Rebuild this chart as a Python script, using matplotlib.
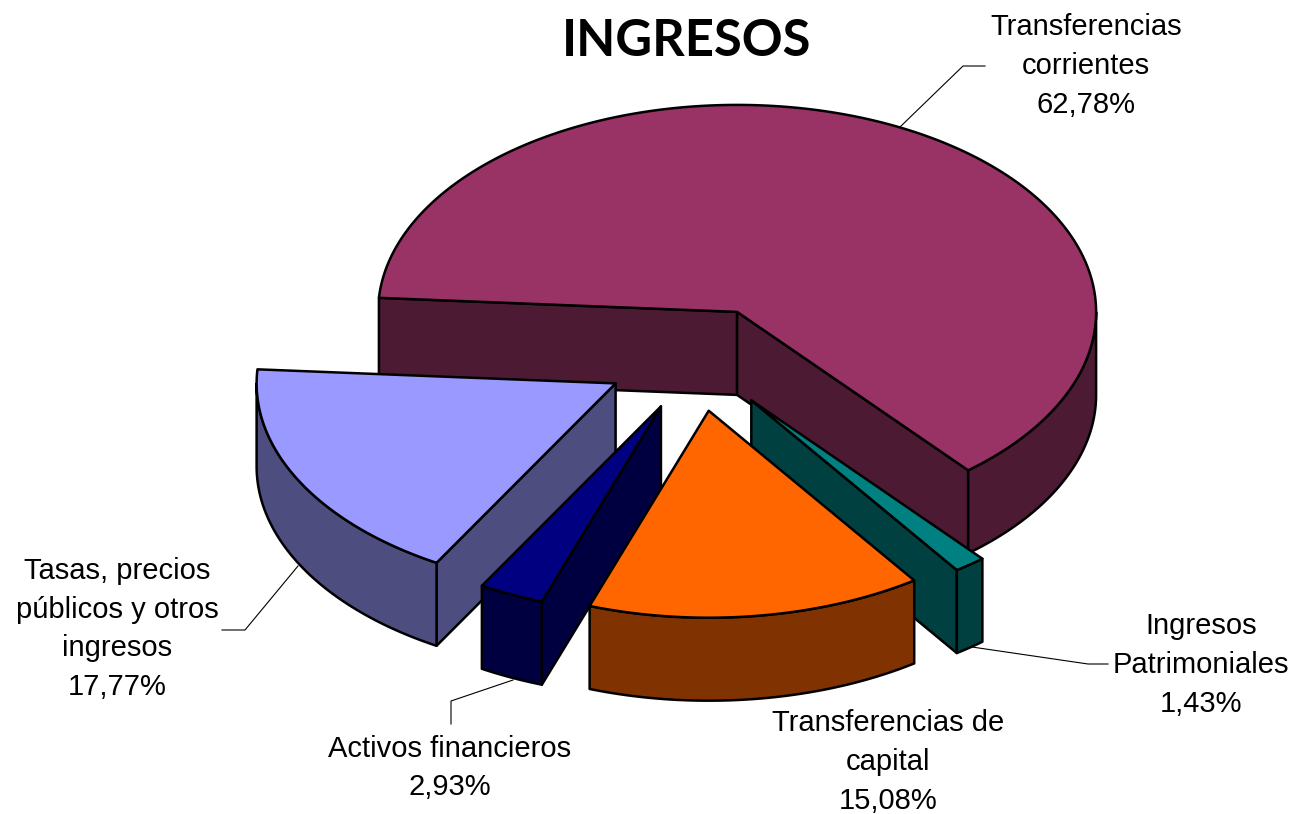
import numpy as np
import matplotlib
matplotlib.use("Agg")
import matplotlib.pyplot as plt
from matplotlib.patches import Polygon

# ---------- data ----------
categories = ["Transferencias corrientes", "Ingresos Patrimoniales",
              "Transferencias de capital", "Activos financieros",
              "Tasas, precios públicos y otros ingresos"]
values = [62.78, 1.43, 15.08, 2.93, 17.77]
value_labels = ["62,78%", "1,43%", "15,08%", "2,93%", "17,77%"]
label_lines = ["Transferencias\ncorrientes", "Ingresos\nPatrimoniales",
               "Transferencias de\ncapital", "Activos financieros",
               "Tasas, precios\npúblicos y otros\ningresos"]
top_colors = ["#993366", "#008080", "#FF6600", "#000080", "#9999FF"]
wall_colors = ["#4D1A33", "#004040", "#803300", "#000040", "#4D4D80"]

# ---------- geometry of the projected pie (pixels) ----------
CX, CY = 695.9, 358.7
RX, RY = 359.0, 207.0
DEPTH = 83.0
EXPLODE = 0.2535
START = 273.9            # degrees clockwise from 12 o'clock
LW = 1.8
NUDGE_X = [0, 0, 0.5, 3, 0]

label_pos = [(1086, 66), (1201, 665), (888, 762), (450, 768), (117, 629)]
leaders = [[(900, 127), (963, 66), (985, 66)],
           [(972, 647), (1088, 664), (1108, 664)],
           [(513, 680), (451, 701), (451, 724)],
           [(298, 566), (245, 630), (222, 630)]]

fig = plt.figure(figsize=(12.96, 8.14), dpi=100)
ax = fig.add_axes([0, 0, 1, 1])
ax.set_xlim(0, 1296)
ax.set_ylim(814, 0)
ax.axis("off")


def pt(cx, cy, deg):
    a = np.radians(deg)
    return np.column_stack((cx + RX * np.sin(a), cy - RY * np.cos(a)))


def poly(xy, fc, z):
    ax.add_patch(Polygon(xy, closed=True, facecolor=fc, edgecolor="black",
                         linewidth=LW, joinstyle="round", zorder=z))


# spans
shares = np.array(values) / sum(values) * 360
starts = START + np.concatenate(([0], np.cumsum(shares)[:-1]))
ends = starts + shares

# painter's order: back slice first, capital last
order = [0, 4, 3, 1, 2]
for k, i in enumerate(order):
    s, e = starts[i], ends[i]
    mid = np.radians((s + e) / 2)
    ox = CX + EXPLODE * RX * np.sin(mid) + NUDGE_X[i]
    oy = CY - EXPLODE * RY * np.cos(mid)
    base = 10 * k
    apex = np.array([[ox, oy]])
    down = np.array([0, DEPTH])
    # cut walls: only those whose outward normal faces the viewer
    if np.sin(np.radians(s)) < 0:
        p = pt(ox, oy, np.array([s]))
        poly(np.vstack((apex, p, p + down, apex + down)), wall_colors[i], base + 1)
    if np.sin(np.radians(e)) > 0:
        p = pt(ox, oy, np.array([e]))
        poly(np.vstack((apex, p, p + down, apex + down)), wall_colors[i], base + 2)
    # outer wall: front-facing part of the rim
    for lo, hi in ((90, 270), (450, 630)):
        a0, a1 = max(s, lo), min(e, hi)
        if a1 > a0:
            arc = pt(ox, oy, np.linspace(a0, a1, 120))
            poly(np.vstack((arc, arc[::-1] + down)), wall_colors[i], base + 3)
    # top
    arc = pt(ox, oy, np.linspace(s, e, 400))
    poly(np.vstack((apex, arc)), top_colors[i], base + 4)

# leader lines
for seg in leaders:
    xs, ys = zip(*seg)
    ax.plot(xs, ys, color="black", lw=0.8, zorder=60)

FONT = ["Liberation Sans", "DejaVu Sans"]
for (x, y), txt, val in zip(label_pos, label_lines, value_labels):
    ax.text(x, y, txt + "\n" + val, ha="center", va="center", fontsize=21,
            family=FONT, linespacing=1.48, zorder=70)

ax.text(686.5, 42, "INGRESOS", ha="center", va="center", fontsize=36.5,
        fontweight="bold", family=["Lato", "DejaVu Sans"], zorder=70)

fig.savefig("out.png", dpi=100, facecolor="white")
